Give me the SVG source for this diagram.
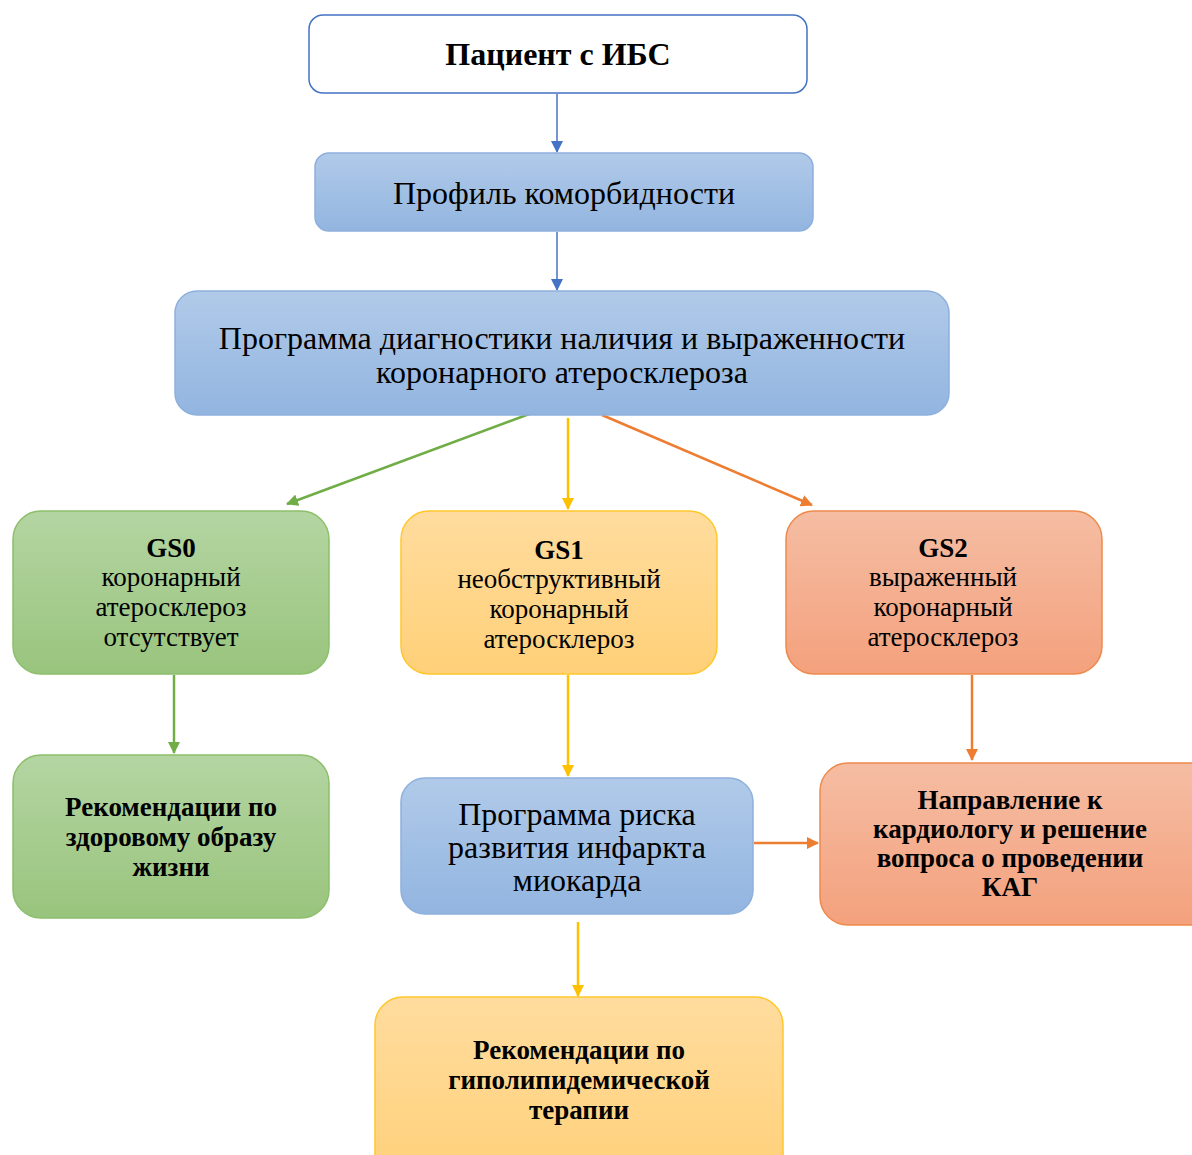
<svg xmlns="http://www.w3.org/2000/svg" width="1192" height="1155" viewBox="0 0 1192 1155">
<style>
text{font-family:"Liberation Serif","Times New Roman",serif;fill:#000;text-anchor:middle}
.b{font-weight:bold}
.t26{font-size:32px}
.t22{font-size:27px}
.blue{fill:url(#gBlue);stroke:#8EB0DD;stroke-width:1.5}
.green{fill:url(#gGreen);stroke:#8CBF6B;stroke-width:1.5}
.yellow{fill:url(#gYellow);stroke:#FFC72C;stroke-width:1.5}
.orange{fill:url(#gOrange);stroke:#EE8A4C;stroke-width:1.5}
.c{fill:none;stroke-width:2.5}
.cb{fill:none;stroke-width:1.5}
</style>
<defs>
<linearGradient id="gBlue" x1="0" y1="0" x2="0" y2="1"><stop offset="0" stop-color="#B1CAE9"/><stop offset="1" stop-color="#92B5E0"/></linearGradient>
<linearGradient id="gGreen" x1="0" y1="0" x2="0" y2="1"><stop offset="0" stop-color="#B4D5A2"/><stop offset="1" stop-color="#99C47D"/></linearGradient>
<linearGradient id="gYellow" x1="0" y1="0" x2="0" y2="1"><stop offset="0" stop-color="#FFDC9E"/><stop offset="1" stop-color="#FFD078"/></linearGradient>
<linearGradient id="gOrange" x1="0" y1="0" x2="0" y2="1"><stop offset="0" stop-color="#F5BDA3"/><stop offset="1" stop-color="#F4A17D"/></linearGradient>
<marker id="aBlue" markerWidth="12" markerHeight="12" refX="11" refY="6" orient="auto" markerUnits="userSpaceOnUse"><path d="M0,0 L12,6 L0,12 z" fill="#4472C4"/></marker>
<marker id="aGreen" markerWidth="12" markerHeight="12" refX="11" refY="6" orient="auto" markerUnits="userSpaceOnUse"><path d="M0,0 L12,6 L0,12 z" fill="#70AD47"/></marker>
<marker id="aYellow" markerWidth="12" markerHeight="12" refX="11" refY="6" orient="auto" markerUnits="userSpaceOnUse"><path d="M0,0 L12,6 L0,12 z" fill="#FFC000"/></marker>
<marker id="aOrange" markerWidth="12" markerHeight="12" refX="11" refY="6" orient="auto" markerUnits="userSpaceOnUse"><path d="M0,0 L12,6 L0,12 z" fill="#ED7D31"/></marker>
</defs>
<rect width="1192" height="1155" fill="#fff"/>

<g id="connectors">
<line class="cb" x1="557" y1="94" x2="557" y2="152" stroke="#4472C4" marker-end="url(#aBlue)"/>
<line class="cb" x1="557" y1="232" x2="557" y2="290" stroke="#4472C4" marker-end="url(#aBlue)"/>
<line class="c" x1="532" y1="413" x2="287" y2="504" stroke="#70AD47" marker-end="url(#aGreen)"/>
<line class="c" x1="568" y1="418" x2="568" y2="509" stroke="#FFC000" marker-end="url(#aYellow)"/>
<line class="c" x1="602" y1="415" x2="812" y2="505" stroke="#ED7D31" marker-end="url(#aOrange)"/>
<line class="c" x1="174" y1="675" x2="174" y2="753" stroke="#70AD47" marker-end="url(#aGreen)"/>
<line class="c" x1="568" y1="675" x2="568" y2="776" stroke="#FFC000" marker-end="url(#aYellow)"/>
<line class="c" x1="972" y1="675" x2="972" y2="760" stroke="#ED7D31" marker-end="url(#aOrange)"/>
<line class="c" x1="754" y1="843" x2="818" y2="843" stroke="#ED7D31" marker-end="url(#aOrange)"/>
<line class="c" x1="578" y1="922" x2="578" y2="996" stroke="#FFC000" marker-end="url(#aYellow)"/>
</g>

<g id="n-patient">
<rect x="309" y="15" width="498" height="78" rx="14" fill="#fff" stroke="#4472C4" stroke-width="1.5"/>
<text class="b t26" x="558" y="65">Пациент с ИБС</text>
</g>

<g id="n-profile">
<rect class="blue" x="315" y="153" width="498" height="78" rx="14"/>
<text class="t26" x="564" y="204">Профиль коморбидности</text>
</g>

<g id="n-program">
<rect class="blue" x="175" y="291" width="774" height="124" rx="22"/>
<text class="t26" x="562" y="349">Программа диагностики наличия и выраженности</text>
<text class="t26" x="562" y="383">коронарного атеросклероза</text>
</g>

<g id="n-gs0">
<rect class="green" x="13" y="511" width="316" height="163" rx="28"/>
<text class="b t22" x="171" y="557">GS0</text>
<text class="t22" x="171" y="586">коронарный</text>
<text class="t22" x="171" y="616">атеросклероз</text>
<text class="t22" x="171" y="646">отсутствует</text>
</g>

<g id="n-gs1">
<rect class="yellow" x="401" y="511" width="316" height="163" rx="28"/>
<text class="b t22" x="559" y="559">GS1</text>
<text class="t22" x="559" y="588">необструктивный</text>
<text class="t22" x="559" y="618">коронарный</text>
<text class="t22" x="559" y="648">атеросклероз</text>
</g>

<g id="n-gs2">
<rect class="orange" x="786" y="511" width="316" height="163" rx="28"/>
<text class="b t22" x="943" y="557">GS2</text>
<text class="t22" x="943" y="586">выраженный</text>
<text class="t22" x="943" y="616">коронарный</text>
<text class="t22" x="943" y="646">атеросклероз</text>
</g>

<g id="n-lifestyle">
<rect class="green" x="13" y="755" width="316" height="163" rx="28"/>
<text class="b t22" x="171" y="816">Рекомендации по</text>
<text class="b t22" x="171" y="846">здоровому образу</text>
<text class="b t22" x="171" y="876">жизни</text>
</g>

<g id="n-risk">
<rect class="blue" x="401" y="778" width="352" height="136" rx="24"/>
<text class="t26" x="577" y="825">Программа риска</text>
<text class="t26" x="577" y="858">развития инфаркта</text>
<text class="t26" x="577" y="891">миокарда</text>
</g>

<g id="n-cardio">
<rect class="orange" x="820" y="763" width="400" height="162" rx="28"/>
<text class="b t22" x="1010" y="809">Направление к</text>
<text class="b t22" x="1010" y="838">кардиологу и решение</text>
<text class="b t22" x="1010" y="867">вопроса о проведении</text>
<text class="b t22" x="1010" y="896">КАГ</text>
</g>

<g id="n-lipid">
<rect class="yellow" x="375" y="997" width="408" height="190" rx="28"/>
<text class="b t22" x="579" y="1059">Рекомендации по</text>
<text class="b t22" x="579" y="1089">гиполипидемической</text>
<text class="b t22" x="579" y="1119">терапии</text>
</g>
</svg>
